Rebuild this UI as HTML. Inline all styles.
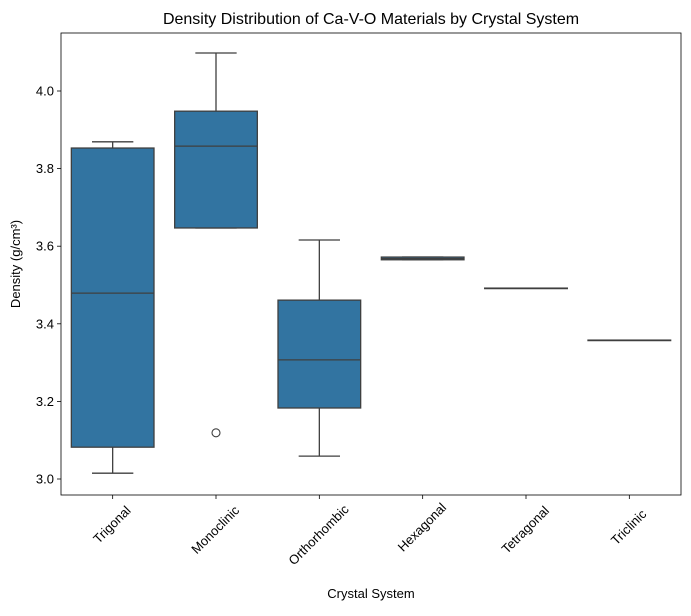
<!DOCTYPE html>
<html><head><meta charset="utf-8"><style>
body{margin:0;background:#fff;}
svg text{font-family:"Liberation Sans","DejaVu Sans",sans-serif;}
</style></head><body>
<svg id="chart" width="691" height="611" xmlns="http://www.w3.org/2000/svg">
<rect width="691" height="611" fill="#fff"/>
<text x="371" y="24" text-anchor="middle" font-size="16" fill="#000">Density Distribution of Ca-V-O Materials by Crystal System</text>
<g id="plot"></g>
<text x="371" y="598" text-anchor="middle" font-size="13">Crystal System</text>
<text transform="translate(20,264) rotate(-90)" text-anchor="middle" font-size="13">Density (g/cm³)</text>
</svg>
<script>
const categories=["Trigonal","Monoclinic","Orthorhombic","Hexagonal","Tetragonal","Triclinic"];
const whiskerLow=[3.015,3.647,3.059,3.565,3.492,3.358];
const q1=[3.082,3.647,3.183,3.565,3.492,3.358];
const medians=[3.479,3.858,3.307,3.568,3.492,3.358];
const q3=[3.853,3.948,3.461,3.572,3.492,3.358];
const whiskerHigh=[3.869,4.098,3.616,3.572,3.492,3.358];
const outliers=[[],[3.119],[],[],[],[]];
const yTicks=[3.0,3.2,3.4,3.6,3.8,4.0];

const L=61,R=681,T=33,B=495;
const NS="http://www.w3.org/2000/svg";
const g=document.getElementById('plot');
function y(v){return 479-(v-3)*388;}
function xc(i){return L+(R-L)/categories.length*(i+0.5);}
function el(t,a){const e=document.createElementNS(NS,t);for(const k in a)e.setAttribute(k,a[k]);g.appendChild(e);return e;}
const bw=(R-L)/categories.length*0.8;
const lc="#3f3f3f";
categories.forEach((c,i)=>{
  const x=xc(i);
  let e=el('line',{x1:x,x2:x,y1:y(whiskerLow[i]),y2:y(q1[i]),stroke:lc,'stroke-width':1.3});
  
  
  e=el('line',{x1:x,x2:x,y1:y(q3[i]),y2:y(whiskerHigh[i]),stroke:lc,'stroke-width':1.3});
  
  
  e=el('line',{x1:x-bw/4,x2:x+bw/4,y1:y(whiskerLow[i]),y2:y(whiskerLow[i]),stroke:lc,'stroke-width':1.3});
  
  
  e=el('line',{x1:x-bw/4,x2:x+bw/4,y1:y(whiskerHigh[i]),y2:y(whiskerHigh[i]),stroke:lc,'stroke-width':1.3});
  
  
  e=el('rect',{x:x-bw/2,y:y(q3[i]),width:bw,height:Math.max(y(q1[i])-y(q3[i]),0.5),fill:'#3274a1',stroke:lc,'stroke-width':1.3});
  
  
  e=el('line',{x1:x-bw/2,x2:x+bw/2,y1:y(medians[i]),y2:y(medians[i]),stroke:lc,'stroke-width':1.3});
  
  
  outliers[i].forEach(v=>{
    const o=el('circle',{cx:x,cy:y(v),r:4,fill:'none',stroke:lc,'stroke-width':1.1});
    
    
  });
  e=el('line',{x1:x,x2:x,y1:B,y2:B+4,stroke:'#000','stroke-width':0.8});
  
  
  const half=c.length*3.6*0.707;
  e=el('text',{x:0,y:0,'font-size':13,'text-anchor':'middle','dominant-baseline':'middle',transform:`translate(${x},${B+10+half}) rotate(-45)`});
  e.textContent=c;
  
  
});
yTicks.forEach(v=>{
  let e=el('line',{x1:L-4,x2:L,y1:y(v),y2:y(v),stroke:'#000','stroke-width':0.8});
  
  
  e=el('text',{x:L-7,y:y(v)+4.5,'font-size':13,'text-anchor':'end'});
  e.textContent=v.toFixed(1);
  
  
});
const f=el('rect',{x:L,y:T,width:R-L,height:B-T,fill:'none',stroke:'#000','stroke-width':0.8});


</script>
</body></html>
